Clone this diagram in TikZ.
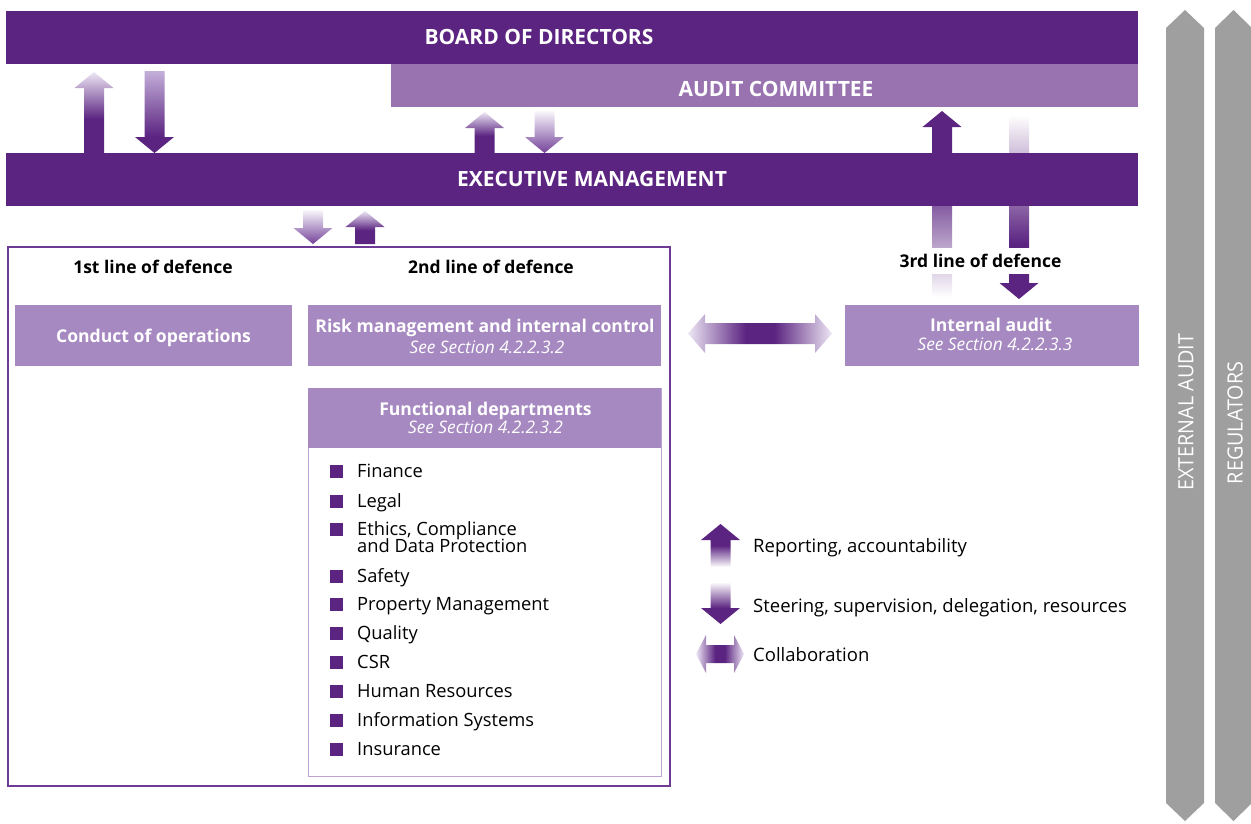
\documentclass[tikz,border=0pt]{standalone}
\usepackage{fontspec}
\setmainfont{Open Sans}
\newfontfamily\bannerfont[FakeStretch=0.94]{Open Sans}

\definecolor{dpurple}{HTML}{5B2481}
\definecolor{mpurple}{HTML}{9873B0}
\definecolor{lpurple}{HTML}{A689C1}
\definecolor{lav}{HTML}{C4AFD9}
\definecolor{pale}{HTML}{EDE6F4}
\definecolor{tippurple}{HTML}{74429A}
\definecolor{framepurple}{HTML}{6E3A93}
\definecolor{listborder}{HTML}{BCA3D3}
\definecolor{bannergray}{HTML}{9F9F9F}

% gradients of the block arrows (box of the path = 25bp..75bp)
\pgfdeclareverticalshading{paletop}{100bp}{color(0bp)=(dpurple); color(46bp)=(dpurple); color(75bp)=(pale); color(100bp)=(pale)}
\pgfdeclareverticalshading{lavtop}{100bp}{color(0bp)=(dpurple); color(35bp)=(dpurple); color(75bp)=(lav); color(100bp)=(lav)}
\pgfdeclareverticalshading{softdown}{100bp}{color(0bp)=(tippurple); color(25bp)=(tippurple); color(75bp)=(white!90!lav); color(100bp)=(white)}
\pgfdeclareverticalshading{iaup}{100bp}{color(0bp)=(white); color(25bp)=(white); color(58bp)=(dpurple); color(100bp)=(dpurple)}
\pgfdeclareverticalshading{iadown}{100bp}{color(0bp)=(dpurple); color(40bp)=(dpurple); color(75bp)=(white); color(100bp)=(white)}
\pgfdeclareverticalshading{legup}{100bp}{color(0bp)=(white); color(25bp)=(white); color(50bp)=(dpurple); color(100bp)=(dpurple)}
\pgfdeclareverticalshading{legdown}{100bp}{color(0bp)=(dpurple); color(44bp)=(dpurple); color(75bp)=(white); color(100bp)=(white)}
\pgfdeclarehorizontalshading{collab}{100bp}{color(0bp)=(pale); color(25bp)=(pale); color(45bp)=(dpurple); color(55bp)=(dpurple); color(75bp)=(pale); color(100bp)=(pale)}

% block arrows: centre x, tip/top y, bottom/tip y, shading
\newcommand{\arrowup}[4]{%
  \shade[shading=#4] (#1-10,#3) -- (#1-10,#2+16) -- (#1-19.5,#2+16) -- (#1,#2)
    -- (#1+19.5,#2+16) -- (#1+10,#2+16) -- (#1+10,#3) -- cycle;}
\newcommand{\arrowdown}[4]{%
  \shade[shading=#4] (#1-10,#2) -- (#1-10,#3-16) -- (#1-19.5,#3-16) -- (#1,#3)
    -- (#1+19.5,#3-16) -- (#1+10,#3-16) -- (#1+10,#2) -- cycle;}

\tikzset{
  panel/.style={anchor=north west,inner sep=0pt,outer sep=0pt},
  bartext/.style={text=white,anchor=base,font=\bfseries\fontsize{21}{24}\selectfont},
  boxtitle/.style={text=white,anchor=base,font=\bfseries\fontsize{17.6}{20}\selectfont},
  boxref/.style={text=white,anchor=base,font=\itshape\fontsize{17.3}{19}\selectfont},
  defence/.style={anchor=base,font=\bfseries\fontsize{17.5}{20}\selectfont},
  dept/.style={anchor=base west,align=left,inner sep=0pt,font=\fontsize{18.3}{17}\selectfont},
  sq/.style={fill=dpurple,minimum size=13pt,inner sep=0pt},
  legendtext/.style={anchor=base west,inner sep=0pt,font=\fontsize{18.5}{21}\selectfont},
  banner/.style={fill=bannergray},
  bannertext/.style={text=white,rotate=90,font=\bannerfont\fontsize{21}{24}\selectfont}
}

\begin{document}
\begin{tikzpicture}[x=1pt,y=-1pt]
  \useasboundingbox (0,0) rectangle (1251,823);

  % side banners
  \path[banner] (1166,28)--(1185,10)--(1204,28)--(1204,803)--(1185,821)--(1166,803)--cycle;
  \path[banner] (1215,28)--(1233.5,10)--(1252,28)--(1252,803)--(1233.5,821)--(1215,803)--cycle;
  \node[bannertext] (extaudit) at (1186,412) {EXTERNAL AUDIT};
  \node[bannertext] (regulators) at (1235,423) {REGULATORS};

  % arrows between the governing bodies
  \arrowup{94}{72}{153}{paletop}
  \arrowdown{154.5}{71}{153}{lavtop}
  \arrowup{484.5}{112}{153}{paletop}
  \arrowdown{544.5}{111}{153}{softdown}
  \arrowdown{313}{210}{244}{softdown}
  \arrowup{365}{211}{244}{paletop}
  \arrowup{942}{111}{297}{iaup}
  \arrowdown{1019}{115}{299}{iadown}

  % governing bodies
  \node[panel,fill=dpurple,minimum width=1132pt,minimum height=53pt] (board) at (6,11) {};
  \node[panel,fill=mpurple,minimum width=747pt,minimum height=43pt] (audit) at (391,64) {};
  \node[panel,fill=dpurple,minimum width=1132pt,minimum height=53pt] (exec) at (6,153) {};
  \node[bartext] (boardtxt) at (539,44) {BOARD OF DIRECTORS};
  \node[bartext] (audittxt) at (776,96) {AUDIT COMMITTEE};
  \node[bartext] (exectxt) at (592,186) {EXECUTIVE MANAGEMENT};

  % first and second line of defence
  \draw[framepurple,line width=1.2pt] (8,247) rectangle (670,786);
  \node[defence] (first) at (153,273) {1st line of defence};
  \node[defence] (second) at (491,273) {2nd line of defence};

  \node[panel,fill=lpurple,minimum width=277pt,minimum height=61pt] (ops) at (15,305) {};
  \node[boxtitle] (opstxt) at (153.5,342) {Conduct of operations};

  \node[panel,fill=lpurple,minimum width=353pt,minimum height=61pt] (risk) at (308,305) {};
  \node[boxtitle] (risktxt) at (485,332) {Risk management and internal control};
  \node[boxref] (riskref) at (487,353) {See Section 4.2.2.3.2};

  \draw[listborder,line width=1pt] (308,388) rectangle (661,776);
  \node[panel,fill=lpurple,minimum width=353pt,minimum height=60pt] (func) at (308,388) {};
  \node[boxtitle] (functxt) at (485.5,415) {Functional departments};
  \node[boxref] (funcref) at (485.5,433) {See Section 4.2.2.3.2};

  \node[sq] (sq1) at (336,471) {};
  \node[dept] (d1) at (357,477) {Finance};
  \node[sq] (sq2) at (336,501) {};
  \node[dept] (d2) at (357,507) {Legal};
  \node[sq] (sq3) at (336,529) {};
  \node[dept] (d3) at (357,552) {Ethics, Compliance\\[-2.5pt]and Data Protection};
  \node[sq] (sq4) at (336,576) {};
  \node[dept] (d4) at (357,582) {Safety};
  \node[sq] (sq5) at (336,604) {};
  \node[dept] (d5) at (357,610) {Property Management};
  \node[sq] (sq6) at (336,633) {};
  \node[dept] (d6) at (357,639) {Quality};
  \node[sq] (sq7) at (336,662) {};
  \node[dept] (d7) at (357,668) {CSR};
  \node[sq] (sq8) at (336,691) {};
  \node[dept] (d8) at (357,697) {Human Resources};
  \node[sq] (sq9) at (336,720) {};
  \node[dept] (d9) at (357,726) {Information Systems};
  \node[sq] (sq10) at (336,749) {};
  \node[dept] (d10) at (357,755) {Insurance};

  % third line of defence
  \node[defence,anchor=center,fill=white,inner xsep=1pt,inner ysep=0pt,minimum height=26pt] (third) at (980.5,261) {3rd line of defence};
  \node[panel,fill=lpurple,minimum width=294pt,minimum height=61pt] (ia) at (845,305) {};
  \node[boxtitle] (iatxt) at (991,331) {Internal audit};
  \node[boxref] (iaref) at (995,350) {See Section 4.2.2.3.3};

  % collaboration between second and third line
  \shade[shading=collab] (688,333.5) -- (705,314) -- (705,323) -- (815,323) -- (815,314)
    -- (832,333.5) -- (815,353) -- (815,344) -- (705,344) -- (705,353) -- cycle;

  % legend
  \arrowup{720.5}{524}{567}{legup}
  \node[legendtext] (lgrep) at (753,552) {Reporting, accountability};
  \arrowdown{720.5}{582}{624}{legdown}
  \node[legendtext] (lgsteer) at (753,612) {Steering, supervision, delegation, resources};
  \shade[shading=collab] (696,654) -- (706,635) -- (706,645) -- (734,645) -- (734,635)
    -- (744,654) -- (734,673) -- (734,663) -- (706,663) -- (706,673) -- cycle;
  \node[legendtext] (lgcollab) at (753,661) {Collaboration};
\end{tikzpicture}
\end{document}
